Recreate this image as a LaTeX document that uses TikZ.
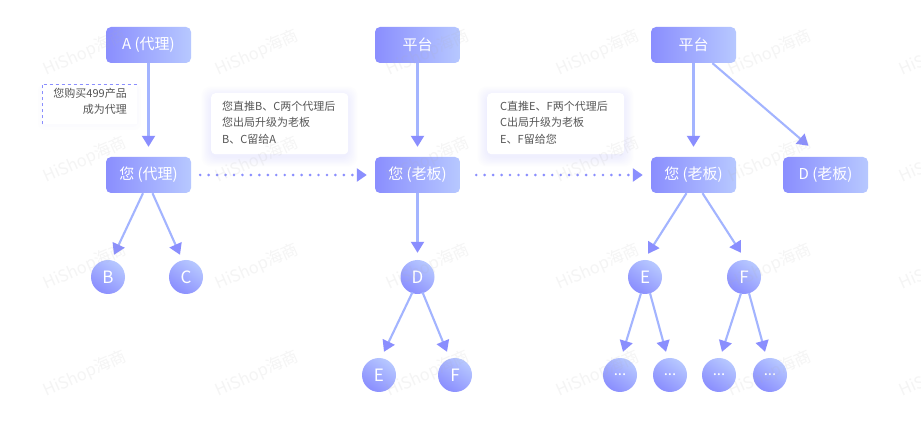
\documentclass[tikz,border=0pt]{standalone}
\usepackage{fontspec}
\setmainfont{Noto Sans CJK SC}
\usetikzlibrary{arrows.meta,calc,positioning}
\definecolor{hd}{HTML}{8A8EFE}
\definecolor{ln}{HTML}{A3B4FF}
\definecolor{bl}{HTML}{8A8EFE}
\definecolor{br}{HTML}{B7C8FF}
\definecolor{txt}{HTML}{555555}
\definecolor{wm}{HTML}{B0B0B0}
\tikzset{
  boxn/.style={minimum width=85pt,minimum height=36pt,inner sep=0pt,rounded corners=5pt,left color=bl,right color=br,text=white,font=\fontsize{15}{15}\selectfont},
  circn/.style={circle,minimum size=34pt,inner sep=0pt,shading=axis,top color=br,bottom color=bl,shading angle=-35,text=white,font=\fontsize{17}{17}\selectfont},
  dotsn/.style={circn,font=\fontsize{15}{15}\selectfont},
  arr/.style={draw=ln,line width=2.1pt,-{Triangle[length=11pt,width=13pt,color=hd,fill=hd]}},
  dotarr/.style={draw=hd,line width=2.9pt,line cap=round,dash pattern=on 0pt off 8.45pt,-{Triangle[length=10pt,width=13pt,color=hd,fill=hd,line cap=butt]}},
  tipn/.style={fill=white,rounded corners=4pt,minimum width=137pt,minimum height=61pt,inner sep=0pt},
  tiptext/.style={text=txt,font=\fontsize{11}{16.5}\selectfont,align=left,inner sep=0pt},
  wmark/.style={text=wm,opacity=.13,rotate=24,font=\fontsize{16.5}{16.5}\selectfont,inner sep=0pt},
  shadowlayer/.style={fill=hd,fill opacity=.012,rounded corners=9pt}
}
\newcommand{\softshadow}[4]{%
  \foreach \g in {1,...,8}{%
    \fill[shadowlayer] ($(#1,#2)+(-\g*1.2,-\g*1.2+3)$) rectangle ($(#3,#4)+(\g*1.2,\g*1.2+3)$);
  }}
\begin{document}
\begin{tikzpicture}[x=1pt,y=-1pt]
\useasboundingbox (0,0) rectangle (921,435);
\fill[white] (0,0) rectangle (921,435);

% tips
\softshadow{211}{93}{348}{154}
\softshadow{487}{93}{624}{154}
\begin{scope}[fill opacity=.5]
\fill[hd,fill opacity=.012,rounded corners=6pt] (38,84) rectangle (141,130);
\fill[hd,fill opacity=.012,rounded corners=6pt] (40,84) rectangle (139,127);
\end{scope}
\node[tipn,anchor=north west] (tipa) at (211,93) {};
\node[tiptext,anchor=north west] (tipatext) at (222,101) {您直推B、C两个代理后\\您出局升级为老板\\B、C留给A};
\node[tipn,anchor=north west] (tipb) at (487,93) {};
\node[tiptext,anchor=north west] (tipbtext) at (500,101) {C直推E、F两个代理后\\C出局升级为老板\\E、F留给您};
\node[fill=white,minimum width=95pt,minimum height=40pt,inner sep=0pt,anchor=north west] (tipc) at (42,84) {};
\draw[hd,line width=.7pt,dash pattern=on 3.5pt off 2.5pt] (tipc.south west) -- (tipc.north west) -- (tipc.north east);
\node[tiptext,anchor=north east,align=right] (tipctext) at (127,88) {您购买499产品\\成为代理};

% boxes
\node[boxn] (a) at (148.5,45) {A (代理)};
\node[boxn] (you1) at (148.5,175) {您 (代理)};
\node[boxn] (p2) at (417.5,45) {平台};
\node[boxn] (you2) at (417.5,175) {您 (老板)};
\node[boxn] (p3) at (693.5,45) {平台};
\node[boxn] (you3) at (693.5,175) {您 (老板)};
\node[boxn] (d3) at (825.5,175) {D (老板)};

% circles
\node[circn] (b1) at (108,277) {B};
\node[circn] (c1) at (186,277) {C};
\node[circn] (d2) at (417.5,277) {D};
\node[circn] (e2) at (379,375) {E};
\node[circn] (f2) at (455,375) {F};
\node[circn] (e3) at (645,277) {E};
\node[circn] (f3) at (744,277) {F};
\node[dotsn] (g1) at (620,375) {...};
\node[dotsn] (g2) at (670,375) {...};
\node[dotsn] (g3) at (719,375) {...};
\node[dotsn] (g4) at (770,375) {...};

% connectors
\draw[arr] (a.south) -- ($(you1.north)+(0,-10)$);
\draw[arr] (p2.south) -- ($(you2.north)+(0,-10)$);
\draw[arr] (p3.south) -- ($(you3.north)+(0,-10)$);
\draw[arr] ($(p3.south)+(19,0)$) -- ($(d3.north)+(-17,-11)$);
\draw[arr] (you2.south) -- ($(d2.north)+(0,-7)$);
\draw[arr] ($(you1.south)+(-5.5,0)$) -- ($(b1.north)+(6,-5)$);
\draw[arr] ($(you1.south)+(4,0)$) -- ($(c1.north)+(-6,-5)$);
\draw[arr] ($(you3.south)+(-7,0)$) -- ($(e3.north)+(3,-6)$);
\draw[arr] ($(you3.south)+(9,0)$) -- ($(f3.north)+(-3,-7)$);
\draw[arr] ($(d2.south)+(-5,-2)$) -- ($(e2.north)+(5,-6)$);
\draw[arr] ($(d2.south)+(5,-2)$) -- ($(f2.north)+(-8,-6)$);
\draw[arr] ($(e3.south)+(-4,-1)$) -- ($(g1.north)+(3,-6)$);
\draw[arr] ($(e3.south)+(5,-1)$) -- ($(g2.north)+(-4,-6)$);
\draw[arr] ($(f3.south)+(-3,-1)$) -- ($(g3.north)+(3,-6)$);
\draw[arr] ($(f3.south)+(5,-1)$) -- ($(g4.north)+(-5,-6)$);
\draw[dotarr] ($(you1.east)+(9,0)$) -- ($(you2.west)+(-8,0)$);
\draw[dotarr] ($(you2.east)+(16,0)$) -- ($(you3.west)+(-8,0)$);

% watermark
\foreach \y in {53,160,267,374}{
  \foreach \x in {85,257,428,598,770,941}{
    \node[wmark] at (\x,\y) {HiShop海商};
  }
}
\end{tikzpicture}
\end{document}
